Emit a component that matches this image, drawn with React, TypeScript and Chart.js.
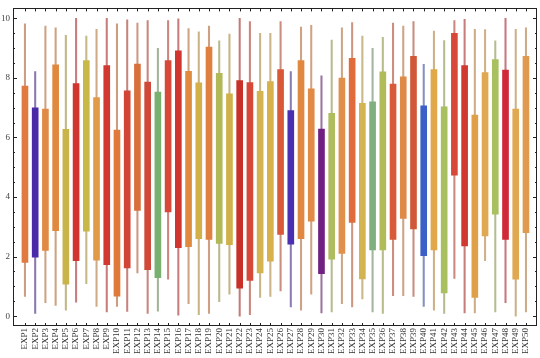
import React, { useEffect, useRef } from "react";
import { Chart, registerables } from "chart.js";

Chart.register(...registerables);

const labels = [
  "EXP1","EXP2","EXP3","EXP4","EXP5","EXP6","EXP7","EXP8","EXP9","EXP10",
  "EXP11","EXP12","EXP13","EXP14","EXP15","EXP16","EXP17","EXP18","EXP19","EXP20",
  "EXP21","EXP22","EXP23","EXP24","EXP25","EXP26","EXP27","EXP28","EXP29","EXP30",
  "EXP31","EXP32","EXP33","EXP34","EXP35","EXP36","EXP37","EXP38","EXP39","EXP40",
  "EXP41","EXP42","EXP43","EXP44","EXP45","EXP46","EXP47","EXP48","EXP49","EXP50",
];

const mins = [
  0.66, 0.09, 0.45, 0.36, 0.2, 0.47, 1.09, 0.33,
  0.14, 0.33, 0.16, 1.45, 0.09, 0.17, 1.24, 0.03,
  0.42, 0.05, 0.09, 0.49, 0.74, 0.0, 0.05, 0.63, 0.66,
  0.85, 0.31, 0.2, 0.74, 0.11, 0.14, 0.42, 0.31, 0.58,
  0.14, 0.09, 0.69, 0.69, 0.66, 0.33, 0.2, 0.09,
  1.27, 0.11, 0.11, 1.86, 0.14, 0.45, 0.0, 0.14,
];
const q1 = [
  1.8, 1.98, 2.21, 2.87, 1.07, 1.86, 2.85, 1.88,
  1.73, 0.67, 1.62, 3.55, 1.56, 1.29, 3.5, 2.3,
  2.33, 2.6, 2.58, 2.44, 2.4, 0.94, 1.2, 1.45, 1.85,
  2.74, 2.42, 2.6, 3.19, 1.43, 1.91, 2.11, 3.15, 1.25,
  2.22, 2.22, 2.58, 3.28, 2.93, 2.03, 2.22, 0.78,
  4.73, 2.36, 0.63, 2.69, 3.42, 2.58, 1.24, 2.8,
];
const q3 = [
  7.72, 6.99, 6.95, 8.44, 6.27, 7.81, 8.58, 7.34,
  8.41, 6.25, 7.56, 8.46, 7.86, 7.52, 8.58, 8.91,
  8.22, 7.83, 9.03, 8.15, 7.46, 7.91, 7.84, 7.55, 7.87,
  8.28, 6.9, 8.58, 7.63, 6.28, 6.81, 7.99, 8.65, 7.14,
  7.19, 8.2, 7.79, 8.03, 8.72, 7.06, 8.28, 7.03,
  9.49, 8.41, 6.75, 8.18, 8.61, 8.26, 6.95, 8.72,
];
const maxs = [
  9.81, 8.21, 9.74, 9.68, 9.43, 10.0, 9.4, 9.63,
  10.0, 9.81, 9.95, 9.84, 9.92, 8.99, 9.92, 9.98,
  9.65, 9.54, 9.74, 9.24, 9.47, 10.0, 9.89, 9.49, 9.49,
  9.89, 8.21, 9.7, 9.76, 8.07, 9.27, 9.68, 9.85, 9.4,
  8.99, 9.36, 9.84, 9.74, 9.89, 8.45, 9.57, 9.25,
  9.92, 9.96, 9.63, 9.62, 9.24, 10.0, 9.63, 9.68,
];

const yTickValues = [0, 2, 4, 6, 8, 10];

const colors = [
  "#e07a40", "#4a2aa8", "#e08a45", "#e0883e", "#c8b448", "#d03530", "#c8b848", "#e09a48",
  "#d03830", "#e07a3a", "#d04535", "#d8703c", "#d04838", "#78b070", "#d84838", "#d03530",
  "#e08a40", "#d4b048", "#e08040", "#b0b858", "#d0b048", "#c83028", "#d84838", "#d4b450", "#d8b04c",
  "#d85838", "#4a30b0", "#e08840", "#e08a45", "#702080", "#b0bc60", "#e0904a", "#e06c3c", "#d4b450",
  "#80b080", "#b0bc58", "#d85a38", "#e08a48", "#d05838", "#3a60c8", "#e0a848", "#a8c060",
  "#d84838", "#d03830", "#e0a048", "#e0a850", "#a8c060", "#d02838", "#e0a850", "#e09a50",
];

function mixColor(hex: string, other: string, t: number): string {
  const p = (h: string) => [1, 3, 5].map((k) => parseInt(h.slice(k, k + 2), 16));
  const a = p(hex);
  const b = p(other);
  const c = a.map((v, i) => Math.round(v * (1 - t) + b[i] * t));
  return `rgb(${c[0]},${c[1]},${c[2]})`;
}

const framePlugin = {
  id: "frame",
  afterDraw(chart: any) {
    const { ctx, chartArea } = chart;
    const xs = chart.scales.x;
    const ys = chart.scales.y;
    ctx.save();
    ctx.strokeStyle = "#222";
    ctx.lineWidth = 1;
    ctx.strokeRect(
      Math.round(chartArea.left) + 0.5,
      Math.round(chartArea.top) + 0.5,
      Math.round(chartArea.right - chartArea.left) - 1,
      Math.round(chartArea.bottom - chartArea.top) - 1
    );
    ctx.beginPath();
    for (let v = 0; v <= 10.001; v += 0.5) {
      const y = Math.round(ys.getPixelForValue(v)) + 0.5;
      const len = Math.abs(v % 2) < 0.01 ? 4 : 2;
      ctx.moveTo(chartArea.left, y);
      ctx.lineTo(chartArea.left + len, y);
      ctx.moveTo(chartArea.right, y);
      ctx.lineTo(chartArea.right - len, y);
    }
    for (let i = 1; i <= labels.length; i++) {
      const x = Math.round(xs.getPixelForValue(i)) + 0.5;
      ctx.moveTo(x, chartArea.top);
      ctx.lineTo(x, chartArea.top + 3);
      ctx.moveTo(x, chartArea.bottom);
      ctx.lineTo(x, chartArea.bottom - 3);
    }
    ctx.stroke();
    ctx.restore();
  },
};

export default function App() {
  const ref = useRef<HTMLCanvasElement>(null);

  useEffect(() => {
    if (!ref.current) return;
    const boxData = labels.map((_, i) => ({ x: i + 1, y: [q1[i], q3[i]] }));
    const whiskerData = labels.map((_, i) => ({ x: i + 1, y: [mins[i], maxs[i]] }));
    const chart = new Chart(ref.current, {
      type: "bar",
      data: {
        datasets: [
          {
            label: "box",
            data: boxData as any,
            backgroundColor: colors,
            borderWidth: 0,
            barThickness: 6,
            grouped: false,
          } as any,
          {
            label: "whisker",
            data: whiskerData as any,
            backgroundColor: colors.map((c) => mixColor(c, "#c0b8b8", 0.55)),
            borderWidth: 0,
            barThickness: 1.4,
            grouped: false,
          } as any,
        ],
      },
      options: {
        animation: false,
        responsive: true,
        maintainAspectRatio: false,
        layout: { padding: { top: 1, right: 3, left: 0, bottom: 0 } },
        plugins: { legend: { display: false }, tooltip: { enabled: false } },
        scales: {
          x: {
            type: "linear",
            offset: false,
            min: -0.17,
            max: 51.08,
            grid: { display: false, drawTicks: false },
            border: { display: false },
            afterBuildTicks: (scale: any) => {
              scale.ticks = labels.map((_, i) => ({ value: i + 1 }));
            },
            afterFit: (scale: any) => {
              scale.height = 32;
            },
            ticks: {
              autoSkip: false,
              maxRotation: 90,
              minRotation: 90,
              padding: 2,
              color: "#333",
              font: { family: "'Liberation Serif', serif", size: 9 },
              callback: (v: any) => labels[Math.round(v) - 1] ?? "",
            },
          },
          y: {
            min: -0.33,
            max: 10.33,
            grid: { display: false, drawTicks: false },
            border: { display: false },
            afterBuildTicks: (scale: any) => {
              scale.ticks = yTickValues.map((v) => ({ value: v }));
            },
            afterFit: (scale: any) => {
              scale.width = 13;
            },
            ticks: {
              padding: 3,
              color: "#444",
              font: { family: "'Liberation Serif', serif", size: 9 },
              callback: (v: any) => String(v),
            },
          },
        },
      } as any,
      plugins: [framePlugin],
    });
    return () => chart.destroy();
  }, []);

  return (
    <div style={{ position: "fixed", left: 0, top: 0, width: 540, height: 358, background: "#fff" }}>
      <canvas ref={ref} />
    </div>
  );
}
